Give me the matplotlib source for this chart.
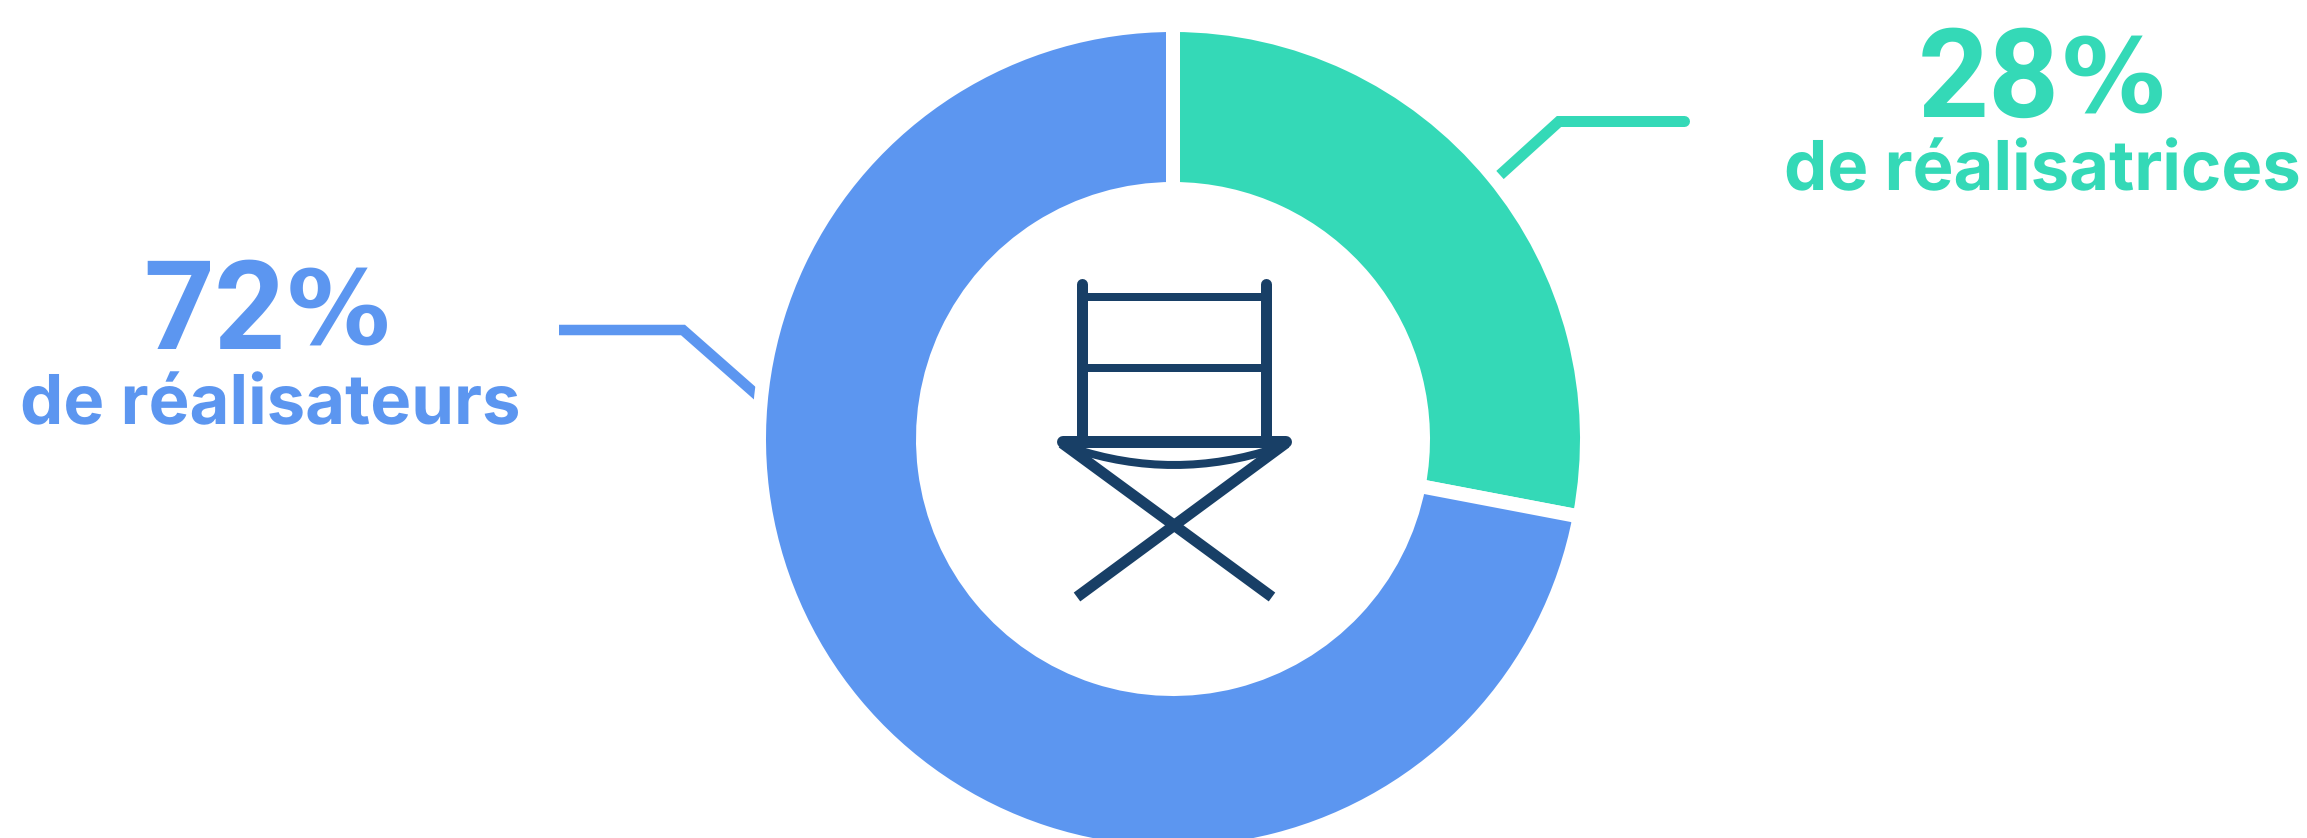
#!/usr/bin/env python3
"""Donut realisateurs / realisatrices, avec la chaise au centre."""
import matplotlib
matplotlib.use("Agg")
import matplotlib.pyplot as plt
from matplotlib.path import Path
from matplotlib.patches import PathPatch, Circle

plt.rcParams["text.hinting"] = "none"
plt.rcParams["text.hinting_factor"] = 1

W, H = 2307, 838
TEAL = "#34d9b7"
BLUE = "#5c96f0"
NAVY = "#183f66"

shares = [28, 72]
share_colors = [TEAL, BLUE]
big_labels = ["28", "72"]
sub_labels = ["de réalisatrices", "de réalisateurs"]

fig = plt.figure(figsize=(W / 100, H / 100), dpi=100)
ax = fig.add_axes([0, 0, 1, 1])


def px(n):
    # largeur en pixels -> points
    return n * 72 / 100


# donut : le bord blanc fait l'espace entre les parts
CX, CY, R_OUT, R_IN, GAP = 1173, 439, 407, 257, 14
ax.pie(shares, colors=share_colors, startangle=-90, counterclock=True,
       center=(CX, CY), radius=R_OUT + GAP / 2,
       wedgeprops=dict(width=R_OUT - R_IN + GAP, edgecolor="white", linewidth=px(GAP)))

# traits de rappel (le bleu passe sous un disque blanc, il finit en arc)
ax.plot([1500, 1559, 1684], [175, 121.5, 121.5], color=TEAL, lw=px(11),
        solid_capstyle="butt", solid_joinstyle="miter")
ax.plot([1680, 1684], [121.5, 121.5], color=TEAL, lw=px(11), solid_capstyle="round")
ax.plot([559, 683, 775], [330, 330, 411], color=BLUE, lw=px(10.5), zorder=0.5,
        solid_capstyle="butt", solid_joinstyle="miter")
ax.add_patch(Circle((CX, CY), 416, fc="white", ec="none", zorder=0.8))

# chaise
for x in (1082, 1266):
    ax.plot([x, x], [284.5, 442], color=NAVY, lw=px(11), solid_capstyle="round")
for y in (297, 368):
    ax.plot([1082, 1266], [y, y], color=NAVY, lw=px(8), solid_capstyle="butt")
ax.plot([1063, 1286], [442, 442], color=NAVY, lw=px(12), solid_capstyle="round")
ax.plot([1062, 1272], [443, 597], color=NAVY, lw=px(11), solid_capstyle="butt")
ax.plot([1286, 1077], [443, 597], color=NAVY, lw=px(11), solid_capstyle="butt")
seat = Path([(1072, 448), (1174, 482), (1276, 448)], [Path.MOVETO, Path.CURVE3, Path.CURVE3])
ax.add_patch(PathPatch(seat, fc="none", ec=NAVY, lw=px(8)))

# textes : le % est plus fin que les chiffres
ax.text(1989, 117, big_labels[0], color=TEAL, fontsize=89, family="Roboto",
        weight="bold", ha="center", va="baseline")
ax.text(2113, 112, "%", color=TEAL, fontsize=74, family="Liberation Sans Narrow",
        weight="bold", ha="center", va="baseline")
ax.text(2042, 190.5, sub_labels[0], color=TEAL, fontsize=49.5, family="Inter",
        weight="bold", ha="center", va="baseline")
ax.text(214, 349, big_labels[1], color=BLUE, fontsize=89, family="Roboto",
        weight="bold", ha="center", va="baseline")
ax.text(338, 344, "%", color=BLUE, fontsize=74, family="Liberation Sans Narrow",
        weight="bold", ha="center", va="baseline")
ax.text(270, 424, sub_labels[1], color=BLUE, fontsize=49.5, family="Inter",
        weight="bold", ha="center", va="baseline")

ax.set_xlim(0, W)
ax.set_ylim(H, 0)
ax.set_aspect("auto")
ax.axis("off")

fig.savefig("out.png", dpi=100)
